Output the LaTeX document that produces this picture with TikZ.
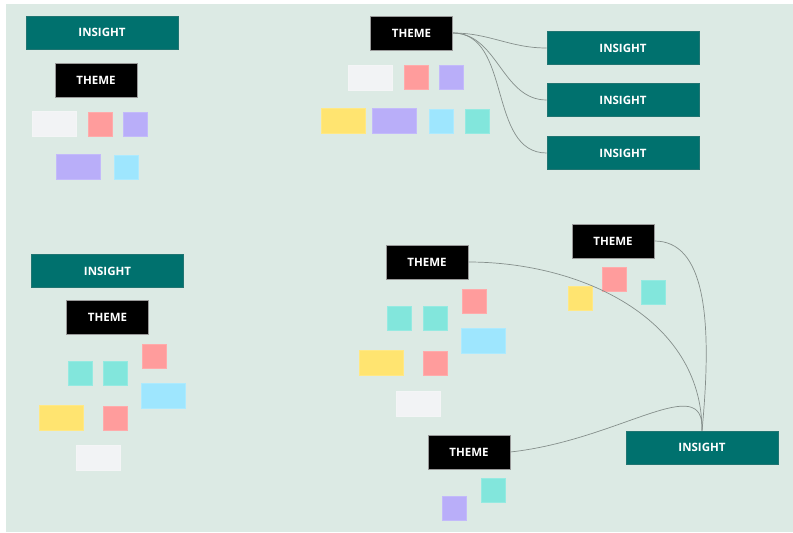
\documentclass[tikz,border=0pt]{standalone}
\usepackage{fontspec}
\setsansfont{Open Sans}
\usepackage{xcolor}
\definecolor{sage}{HTML}{DCEAE4}
\definecolor{insightteal}{HTML}{00716E}
\definecolor{notewhite}{HTML}{F2F3F5}
\definecolor{notepink}{HTML}{FF9C9C}
\definecolor{notepurple}{HTML}{B9AEF9}
\definecolor{notecyan}{HTML}{9EE6FE}
\definecolor{noteteal}{HTML}{82E6DC}
\definecolor{noteyellow}{HTML}{FFE470}
\definecolor{linkgray}{HTML}{858F8B}

\begin{document}
\begin{tikzpicture}[x=1pt, y=-1pt, insight node/.style={rectangle, fill=insightteal, draw=insightteal!75!gray, line width=0.6pt, minimum width=152pt, minimum height=33pt, inner sep=0pt, text=white, font=\sffamily\bfseries\fontsize{11.5}{12}\selectfont}, theme node/.style={rectangle, fill=black, draw=gray!80, line width=0.6pt, minimum width=82pt, minimum height=34pt, inner sep=0pt, text=white, font=\sffamily\bfseries\fontsize{11.5}{12}\selectfont}, sticky/.style={rectangle, fill=#1, draw=#1!85!white, line width=0.4pt, minimum width=24pt, minimum height=24pt, inner sep=0pt}, wide sticky/.style={sticky=#1, minimum width=44pt, minimum height=25pt}, link/.style={draw=linkgray, line width=0.7pt}]
\useasboundingbox (0,0) rectangle (793,533);
\fill[sage] (6,4) rectangle (793,532);
\node[insight node] (1) at (102,32.5) {INSIGHT};
\node[theme node] (2) at (96,80) {THEME};
\node[wide sticky=notewhite] (3) at (54,123.5) {};
\node[sticky=notepink] (4) at (100,124) {};
\node[sticky=notepurple] (5) at (135,124) {};
\node[wide sticky=notepurple] (6) at (78.5,167) {};
\node[sticky=notecyan] (7) at (126,167) {};
\node[theme node] (8) at (411.5,33) {THEME};
\node[insight node] (9) at (623,48) {INSIGHT};
\node[insight node] (10) at (623,100) {INSIGHT};
\node[insight node] (11) at (623,153) {INSIGHT};
\node[wide sticky=notewhite] (12) at (370,77.5) {};
\node[sticky=notepink] (13) at (416,77.5) {};
\node[sticky=notepurple] (14) at (451,77.5) {};
\node[wide sticky=noteyellow] (15) at (343.5,121) {};
\node[wide sticky=notepurple] (16) at (394,121) {};
\node[sticky=notecyan] (17) at (441,121) {};
\node[sticky=noteteal] (18) at (477,121) {};
\node[insight node] (19) at (107.5,271) {INSIGHT};
\node[theme node] (20) at (107.5,317) {THEME};
\node[sticky=noteteal] (21) at (80,373) {};
\node[sticky=noteteal] (22) at (115,373) {};
\node[sticky=notepink] (23) at (154,356) {};
\node[wide sticky=notecyan] (24) at (163.5,396) {};
\node[wide sticky=noteyellow] (25) at (61,418) {};
\node[sticky=notepink] (26) at (115,418) {};
\node[wide sticky=notewhite] (27) at (98,458) {};
\node[theme node] (28) at (427,262) {THEME};
\node[sticky=notepink] (29) at (474,301) {};
\node[sticky=noteteal] (30) at (399.5,318) {};
\node[sticky=noteteal] (31) at (435,318) {};
\node[wide sticky=notecyan] (32) at (483.5,341) {};
\node[wide sticky=noteyellow] (33) at (381,363) {};
\node[sticky=notepink] (34) at (435,363) {};
\node[wide sticky=notewhite] (35) at (418,403.5) {};
\node[theme node] (36) at (613,241) {THEME};
\node[sticky=notepink] (37) at (614,279) {};
\node[sticky=noteyellow] (38) at (580,298) {};
\node[sticky=noteteal] (39) at (653,292) {};
\node[theme node] (40) at (469,452) {THEME};
\node[sticky=noteteal] (41) at (493,490) {};
\node[sticky=notepurple] (42) at (454,508) {};
\node[insight node] (43) at (702,447.5) {INSIGHT};
\path[link]
(8) edge[out=0, in=180] (9)
(8) edge[out=0, in=180] (10)
(8) edge[out=0, in=180] (11)
(28) edge[out=0, in=90] (43);
\draw[link] (36.east) .. controls +(50,0) and +(11,-115) .. (43.north);
\draw[link] (40.east) .. controls +(110,-12) and +(3,-61) .. (43.north);
\end{tikzpicture}
\end{document}
